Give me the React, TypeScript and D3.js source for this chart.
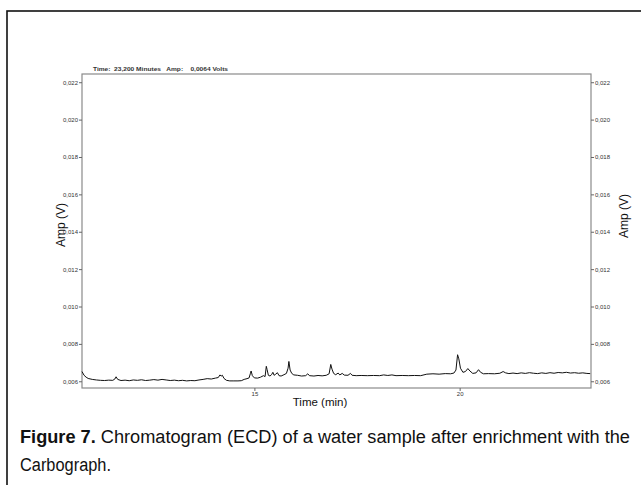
import React, { useEffect, useRef } from 'react';
import * as d3 from 'd3';

// retention time (min) and detector signal (V)
const times = [
  10.80, 10.85, 10.90, 10.95, 11.05, 11.15, 11.25, 11.35, 11.45, 11.55, 11.60, 11.63, 11.67, 11.75,
  11.85, 11.95, 12.05, 12.15, 12.25, 12.35, 12.45, 12.55, 12.65, 12.75, 12.85, 12.95, 13.05, 13.15,
  13.25, 13.35, 13.45, 13.55, 13.65, 13.75, 13.85, 13.95, 14.05, 14.12, 14.16, 14.19, 14.22, 14.26,
  14.32, 14.40, 14.50, 14.60, 14.68, 14.75, 14.82, 14.87, 14.90, 14.92, 14.95, 15.00, 15.08, 15.15,
  15.22, 15.26, 15.29, 15.31, 15.34, 15.38, 15.42, 15.45, 15.48, 15.52, 15.56, 15.60, 15.65, 15.72,
  15.78, 15.82, 15.84, 15.87, 15.91, 15.96, 16.05, 16.15, 16.25, 16.30, 16.34, 16.45, 16.55, 16.65,
  16.75, 16.82, 16.86, 16.89, 16.93, 16.98, 17.04, 17.08, 17.14, 17.19, 17.28, 17.34, 17.38, 17.48,
  17.60, 17.75, 17.90, 18.05, 18.15, 18.25, 18.35, 18.45, 18.60, 18.75, 18.90, 19.05, 19.20, 19.35,
  19.50, 19.65, 19.78, 19.86, 19.91, 19.95, 19.98, 20.02, 20.08, 20.14, 20.20, 20.25, 20.32, 20.40,
  20.46, 20.51, 20.58, 20.70, 20.85, 20.98, 21.06, 21.12, 21.20, 21.30, 21.40, 21.50, 21.60, 21.70,
  21.80, 21.90, 22.00, 22.10, 22.20, 22.30, 22.40, 22.50, 22.60, 22.70, 22.80, 22.90, 23.00, 23.10,
  23.18,
];
const amps = [
  0.00652, 0.00632, 0.00622, 0.00615, 0.00610, 0.00607, 0.00605, 0.00604, 0.00606, 0.00605, 0.00612, 0.00624, 0.00610, 0.00604,
  0.00606, 0.00603, 0.00607, 0.00605, 0.00608, 0.00604, 0.00606, 0.00609, 0.00606, 0.00610, 0.00607, 0.00604, 0.00606, 0.00603,
  0.00605, 0.00602, 0.00604, 0.00603, 0.00607, 0.00610, 0.00614, 0.00612, 0.00617, 0.00620, 0.00634, 0.00628, 0.00632, 0.00615,
  0.00605, 0.00602, 0.00602, 0.00602, 0.00603, 0.00610, 0.00614, 0.00618, 0.00640, 0.00655, 0.00630, 0.00618, 0.00617, 0.00622,
  0.00630, 0.00625, 0.00680, 0.00662, 0.00632, 0.00628, 0.00636, 0.00648, 0.00632, 0.00638, 0.00646, 0.00630, 0.00628, 0.00635,
  0.00642, 0.00670, 0.00706, 0.00660, 0.00642, 0.00634, 0.00632, 0.00628, 0.00630, 0.00640, 0.00630, 0.00628, 0.00631, 0.00629,
  0.00632, 0.00640, 0.00690, 0.00665, 0.00642, 0.00635, 0.00644, 0.00634, 0.00642, 0.00633, 0.00632, 0.00642, 0.00632, 0.00630,
  0.00631, 0.00630, 0.00631, 0.00630, 0.00634, 0.00631, 0.00634, 0.00630, 0.00631, 0.00630, 0.00631, 0.00630, 0.00638, 0.00640,
  0.00638, 0.00641, 0.00640, 0.00644, 0.00660, 0.00742, 0.00720, 0.00670, 0.00648, 0.00652, 0.00668, 0.00655, 0.00642, 0.00645,
  0.00662, 0.00648, 0.00640, 0.00641, 0.00640, 0.00643, 0.00652, 0.00645, 0.00641, 0.00644, 0.00641, 0.00645, 0.00642, 0.00646,
  0.00643, 0.00641, 0.00645, 0.00642, 0.00646, 0.00643, 0.00647, 0.00645, 0.00648, 0.00644, 0.00646, 0.00643, 0.00645, 0.00642,
  0.00641,
];

const yTicks = [0.006, 0.008, 0.010, 0.012, 0.014, 0.016, 0.018, 0.020, 0.022];
const xTicks = [15, 20];
const xDomain = [10.8, 23.2];
const yDomain = [0.00564, 0.02244];

const headerText = 'Time:  23,200 Minutes   Amp:    0,0064 Volts';
const xTitle = 'Time (min)';
const yTitle = 'Amp (V)';
const captionBold = 'Figure 7.';
const captionLine1 = ' Chromatogram (ECD) of a water sample after enrichment with the';
const captionLine2 = 'Carbograph.';

const App = () => {
  const ref = useRef(null);

  useEffect(() => {
    const svg = d3.select(ref.current);
    svg.selectAll('*').remove();

    const left = 82, right = 591, top = 74, bottom = 388;
    const x = d3.scaleLinear().domain(xDomain).range([left, right]);
    const y = d3.scaleLinear().domain(yDomain).range([bottom, top]);
    const fmt = (d) => d3.format('.3f')(d).replace('.', ',');
    const tickFont = "'Liberation Sans', Arial, sans-serif";

    // outer figure box (extends past the crop)
    svg.append('rect')
      .attr('x', 7).attr('y', 11)
      .attr('width', 700).attr('height', 600)
      .attr('fill', 'none').attr('stroke', '#111').attr('stroke-width', 1.6);

    svg.append('text')
      .attr('x', 93).attr('y', 71)
      .attr('font-family', tickFont).attr('font-size', 6).attr('font-weight', 'bold')
      .attr('fill', '#333')
      .attr('textLength', 135).attr('lengthAdjust', 'spacingAndGlyphs')
      .attr('xml:space', 'preserve')
      .text(headerText);

    svg.append('rect')
      .attr('x', left).attr('y', top)
      .attr('width', right - left).attr('height', bottom - top)
      .attr('fill', 'none').attr('stroke', '#8a8a8a').attr('stroke-width', 1.2);

    const styleAxis = (g) => {
      g.select('.domain').remove();
      g.selectAll('line').attr('stroke', '#666');
      g.selectAll('text')
        .attr('font-family', tickFont).attr('font-size', 6)
        .attr('fill', '#333');
    };

    svg.append('g')
      .attr('transform', `translate(${left},0)`)
      .call(d3.axisLeft(y).tickValues(yTicks).tickSize(3).tickPadding(1).tickFormat(fmt))
      .call(styleAxis);

    svg.append('g')
      .attr('transform', `translate(${right},0)`)
      .call(d3.axisRight(y).tickValues(yTicks).tickSize(3).tickPadding(1).tickFormat(fmt))
      .call(styleAxis);

    svg.append('g')
      .attr('transform', `translate(0,${bottom})`)
      .call(d3.axisBottom(x).tickValues(xTicks).tickSize(3).tickPadding(1).tickFormat(d3.format('d')))
      .call(styleAxis);

    svg.append('text')
      .attr('x', 320).attr('y', 406)
      .attr('text-anchor', 'middle')
      .attr('font-family', tickFont).attr('font-size', 11.5).attr('fill', '#111')
      .text(xTitle);

    svg.append('text')
      .attr('transform', 'translate(65,225) rotate(-90)')
      .attr('text-anchor', 'middle')
      .attr('font-family', tickFont).attr('font-size', 12).attr('fill', '#111')
      .text(yTitle);

    svg.append('text')
      .attr('transform', 'translate(628,216) rotate(-90)')
      .attr('text-anchor', 'middle')
      .attr('font-family', tickFont).attr('font-size', 12).attr('fill', '#111')
      .text(yTitle);

    const pts = times.map((t, i) => [t, amps[i]]);
    const line = d3.line().x(d => x(d[0])).y(d => y(d[1]));
    svg.append('path')
      .datum(pts)
      .attr('d', line)
      .attr('fill', 'none').attr('stroke', '#111').attr('stroke-width', 1)
      .attr('stroke-linejoin', 'round');

    const capFont = "'Liberation Sans Narrow', 'Liberation Sans', sans-serif";
    const cap = svg.append('text')
      .attr('x', 20).attr('y', 443)
      .attr('font-family', capFont).attr('font-size', 18).attr('fill', '#111')
      .attr('textLength', 610).attr('lengthAdjust', 'spacingAndGlyphs')
      .attr('xml:space', 'preserve');
    cap.append('tspan').attr('font-weight', 'bold').text(captionBold);
    cap.append('tspan').text(captionLine1);

    svg.append('text')
      .attr('x', 20).attr('y', 471)
      .attr('font-family', capFont).attr('font-size', 18).attr('fill', '#111')
      .attr('textLength', 91).attr('lengthAdjust', 'spacingAndGlyphs')
      .text(captionLine2);
  }, []);

  return (
    <svg ref={ref} width={641} height={485} style={{ position: 'absolute', left: 0, top: 0, background: '#fff' }}></svg>
  );
};

export default App;
